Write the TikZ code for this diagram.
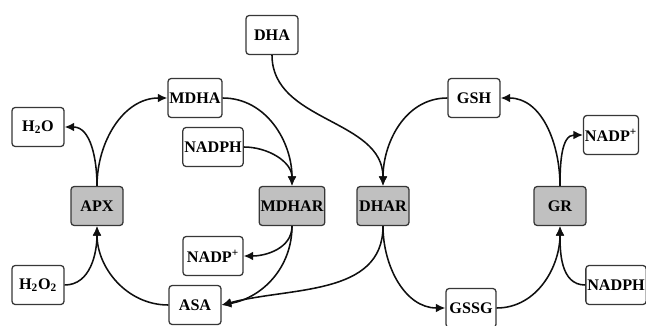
\documentclass[tikz,border=0pt]{standalone}
\usepackage{fontspec}
\setmainfont{Liberation Serif}
\usetikzlibrary{arrows.meta, positioning}
\definecolor{enzgray}{RGB}{192,192,192}
\definecolor{boxink}{RGB}{55,55,55}
\definecolor{lineink}{RGB}{15,15,15}
\tikzset{
  metab/.style={
    draw=boxink,
    rounded corners=0.8mm,
    line width=0.9pt,
    fill=white,
    align=center,
    minimum width=1.3cm,
    minimum height=0.975cm,
    inner sep=1pt,
    font=\fontsize{11.5}{12}\selectfont\bfseries,
    text=black
  },
  enzyme/.style={
    metab,
    fill=enzgray
  },
  flow/.style={-{Latex[length=2.4mm, width=2.2mm]}, line width=1.1pt, draw=lineink}
}

\begin{document}
\begin{tikzpicture}
        \useasboundingbox (0,0) rectangle (16.15,-8.15);
        % ascorbate side
        \node[enzyme] (apx) at (2.425,-5.15) {APX};
        \node[enzyme, minimum width=1.55cm] (mdhar) at (7.3,-5.15) {MDHAR};
        \node[metab] (mdha) at (4.875,-2.45) {MDHA};
        \node[metab] (asa) at (4.875,-7.625) {ASA};
        \node[metab] (water) at (0.95,-3.175) {H\textsubscript{2}O};
        \node[metab] (peroxide) at (0.95,-7.125) {H\textsubscript{2}O\textsubscript{2}};
        \node[metab, minimum width=1.5cm] (nadphA) at (5.325,-3.675) {NADPH};
        \node[metab, minimum width=1.5cm] (nadpA) at (5.325,-6.4) {NADP\textsuperscript{+}};
        \node[metab] (dha) at (6.8,-0.875) {DHA};

        % glutathione side
        \node[enzyme] (dhar) at (9.575,-5.15) {DHAR};
        \node[enzyme] (gr) at (14.0,-5.15) {GR};
        \node[metab] (gsh) at (11.85,-2.45) {GSH};
        \node[metab, minimum width=1.25cm] (gssg) at (11.775,-7.7) {GSSG};
        \node[metab] (nadpB) at (15.275,-3.375) {NADP\textsuperscript{+}};
        \node[metab, minimum width=1.45cm] (nadphB) at (15.4,-7.125) {NADPH};

        \draw[flow] (apx.north) to[out=90, in=0] (water.east);
        \draw[flow] (apx.north) to[out=90, in=180] (mdha.west);
        \draw[flow] (mdha.east) to[out=0, in=90] (mdhar.north);
        \draw[flow] (nadphA.east) to[out=0, in=90] (mdhar.north);
        \draw[flow] (mdhar.south) to[out=-90, in=0] (nadpA.east);
        \draw[flow] (mdhar.south) to[out=-90, in=10] (asa.east);
        \draw[flow] (asa.west) to[out=180, in=-90] (apx.south);
        \draw[flow] (peroxide.east) to[out=0, in=-90] (apx.south);

        \draw[flow] (dha.south) to[out=-90, in=90] (dhar.north);
        \draw[flow] (gsh.west) to[out=180, in=90] (dhar.north);
        \draw[flow] (dhar.south) to[out=-90, in=15] (asa.east);
        \draw[flow] (dhar.south) to[out=-90, in=180] (gssg.west);
        \draw[flow] (gssg.east) to[out=0, in=-90] (gr.south);
        \draw[flow] (nadphB.west) to[out=180, in=-90] (gr.south);
        \draw[flow] (gr.north) to[out=90, in=0] (gsh.east);
        \draw[flow] (gr.north) to[out=90, in=180] (nadpB.west);
      \end{tikzpicture}
\end{document}
